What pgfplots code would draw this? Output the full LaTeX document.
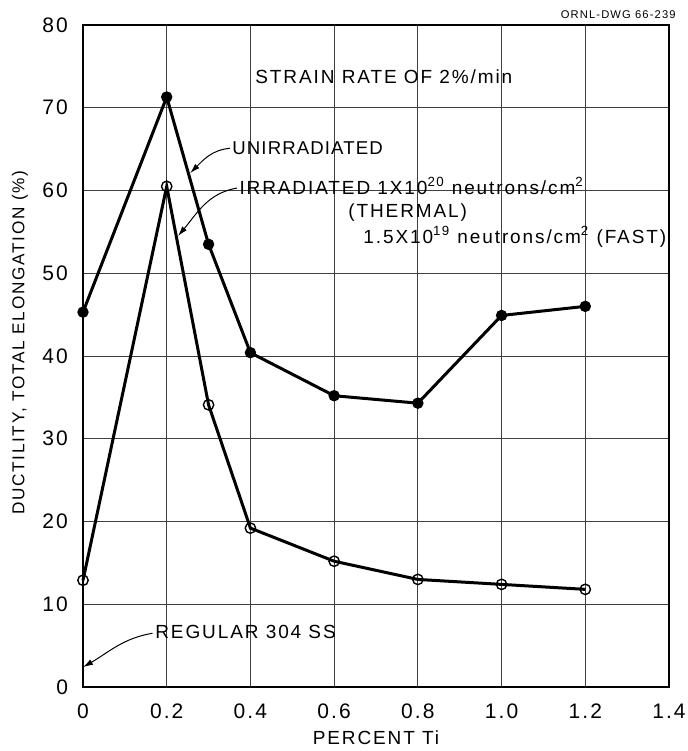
\documentclass[border=0pt]{standalone}
\usepackage{pgfplots}
\pgfplotsset{compat=1.18}
\usepackage{fontspec}
\setmainfont{Liberation Sans}[LetterSpace=10]
\usetikzlibrary{arrows.meta}
\tikzset{
  annot/.style={anchor=base west, inner sep=0pt, font=\fontsize{9.5}{11}\selectfont},
  arr/.style={-{Latex[length=5pt,width=3pt]}, line width=0.5pt},
}

\pgfplotstableread{
x y
0.0 45.3
0.2 71.3
0.3 53.5
0.4 40.4
0.6 35.2
0.8 34.3
1.0 44.9
1.2 46.0
}\unirr
\pgfplotstableread{
x y
0.0 12.9
0.2 60.5
0.3 34.1
0.4 19.2
0.6 15.2
0.8 13.0
1.0 12.4
1.2 11.8
}\irr

\begin{document}
\begin{tikzpicture}
\begin{axis}[
  name=ax, at={(0,0)}, anchor=south west,
  scale only axis, width=293pt, height=331pt,
  xmin=0, xmax=1.4, ymin=0, ymax=80,
  xtick={0,0.2,0.4,0.6,0.8,1.0,1.2,1.4},
  xticklabels={0,0.2,0.4,0.6,0.8,1.0,1.2,1.4},
  ytick={0,10,20,30,40,50,60,70,80},
  grid=major, major grid style={black!75, line width=0.45pt},
  tick style={draw=none},
  axis line style={line width=0.8pt},
  /pgf/number format/assume math mode=true,
  tick label style={font=\fontsize{10.5}{12}\selectfont},
  xticklabel style={yshift=-5pt},
  yticklabel style={xshift=-4pt},
  xlabel={PERCENT Ti},
  ylabel={DUCTILITY, TOTAL ELONGATION (\%)},
  xlabel style={at={(axis description cs:0.5,-0.077)}, anchor=center, font=\fontsize{9.5}{11}\selectfont},
  ylabel style={at={(axis description cs:-0.1075,0.52)}, anchor=center, font=\fontsize{8.6}{10}\selectfont},
  clip=false,
]
\addplot[black, line width=1.5pt, mark=*, mark options={fill=black, line width=0.5pt}, mark size=2.6pt] table[x=x,y=y]{\unirr};
\addplot[black, line width=1.5pt, mark=o, mark options={fill=white, line width=0.7pt}, mark size=2.6pt] table[x=x,y=y]{\irr};

\node[annot] at (axis cs:0.411,72.9) {STRAIN RATE OF 2\%/min};
\node[annot, font=\fontsize{9.3}{11}\selectfont\addfontfeatures{LetterSpace=6}] at (axis cs:0.356,64.3) {UNIRRADIATED};
\draw[arr] (axis cs:0.351,65.1) to[out=185, in=45] (axis cs:0.256,62.1);
\node[annot] at (axis cs:0.373,59.5) {IRRADIATED 1X10\textsuperscript{20} neutrons/cm\textsuperscript{2}};
\draw[arr] (axis cs:0.368,60.3) to[out=190, in=50] (axis cs:0.227,54.5);
\node[annot] at (axis cs:0.633,56.7) {(THERMAL)};
\node[annot] at (axis cs:0.669,53.6) {1.5X10\textsuperscript{19} neutrons/cm\textsuperscript{2} (FAST)};
\node[annot] at (axis cs:0.172,5.9) {REGULAR 304 SS};
\draw[arr] (axis cs:0.166,6.5) to[out=190, in=30] (axis cs:0.0,2.4);
\node[anchor=base east, inner sep=0pt, font=\fontsize{5.6}{7}\selectfont] at ([xshift=3.5pt,yshift=3.5pt]rel axis cs:1,1) {ORNL-DWG 66-239};
\end{axis}
\pgfresetboundingbox
\path[use as bounding box] (-41.5pt,-32pt) rectangle (302.5pt,343.5pt);
\end{tikzpicture}
\end{document}
